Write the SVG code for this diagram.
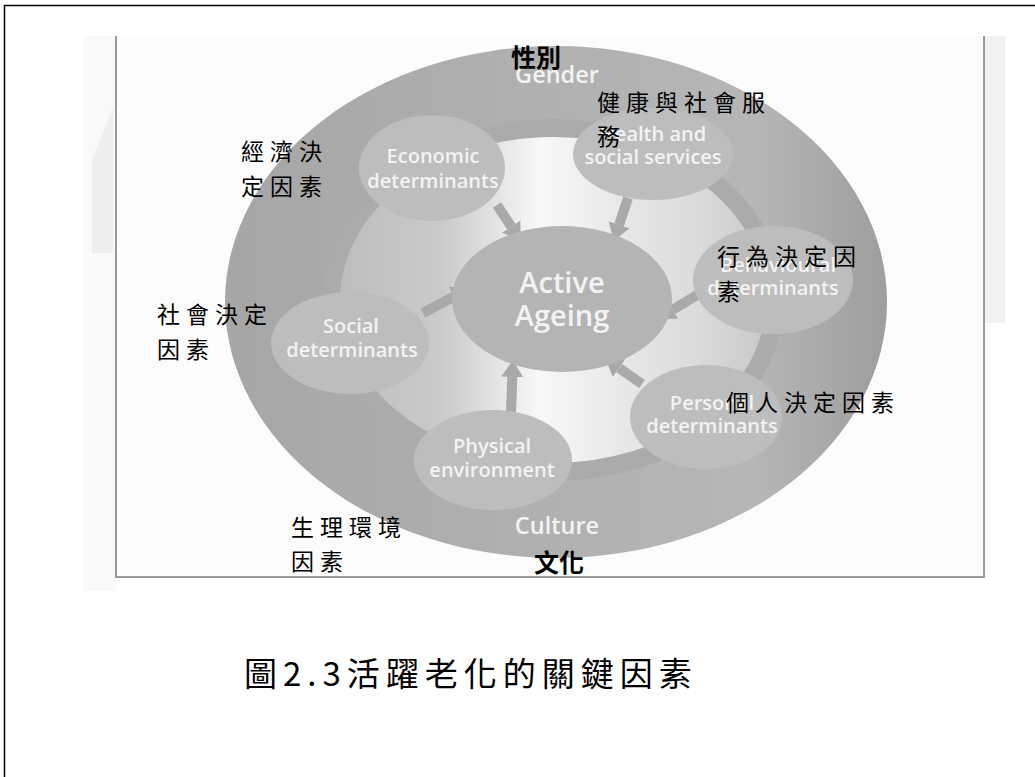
<svg xmlns="http://www.w3.org/2000/svg" width="1035" height="777" viewBox="0 0 1035 777">
<style>
.en{font-family:"Open Sans","Liberation Sans",sans-serif;font-weight:600;fill:#f3f3f3;text-anchor:middle}
.node{fill:#bdbdbd}
.zh{font-family:"Noto Sans CJK TC","Noto Sans CJK SC",sans-serif;font-size:23px;letter-spacing:6px;fill:#000}
.zhb{font-family:"Noto Sans CJK TC","Noto Sans CJK SC",sans-serif;font-size:25px;font-weight:700;fill:#000}
.arrow{stroke:#a9a9a9;stroke-width:10;fill:none;marker-end:url(#ah)}
</style>
<defs>
<linearGradient id="outerG" gradientUnits="userSpaceOnUse" x1="228" y1="0" x2="885" y2="0">
<stop offset="0" stop-color="#a6a6a6"/>
<stop offset="0.45" stop-color="#b0b0b0"/>
<stop offset="0.8" stop-color="#b6b6b6"/>
<stop offset="1" stop-color="#9e9e9e"/>
</linearGradient>
<linearGradient id="innerG" gradientUnits="userSpaceOnUse" x1="331" y1="0" x2="775" y2="0">
<stop offset="0" stop-color="#bcbcbc"/>
<stop offset="0.25" stop-color="#cacaca"/>
<stop offset="0.47" stop-color="#f8f8f8"/>
<stop offset="0.65" stop-color="#e8e8e8"/>
<stop offset="0.83" stop-color="#dadada"/>
<stop offset="1" stop-color="#c6c6c6"/>
</linearGradient>
<marker id="ah" markerUnits="userSpaceOnUse" markerWidth="20" markerHeight="26" refX="0" refY="13" orient="auto" viewBox="0 0 20 26">
<path d="M0,2 L17,13 L0,24 z" fill="#a9a9a9"/>
</marker>
</defs>
<rect width="1035" height="777" fill="#ffffff"/>
<rect x="4.5" y="5.5" width="1100" height="900" fill="none" stroke="#000" stroke-width="1.5"/>
<g id="frame">
<rect x="83" y="36" width="33" height="555" fill="#f9f9f9"/>
<polygon points="92,160 113,107 113,253 92,253" fill="#eeeeee"/>
<rect x="985" y="36" width="20" height="287" fill="#f1f1f1"/>
<rect x="116" y="36" width="868" height="541" fill="#fcfcfc"/>
<path d="M116,36 V577 H984 V36" fill="none" stroke="#999" stroke-width="2"/>
</g>
<g id="outer">
<ellipse cx="556" cy="302" rx="331" ry="256" fill="url(#outerG)"/>
<ellipse cx="553" cy="300" rx="222" ry="172" fill="url(#innerG)" stroke="#ababab" stroke-width="18"/>
<text class="en" x="557" y="83" font-size="23.5">Gender</text>
<text class="en" x="557" y="534" font-size="23.5">Culture</text>
</g>
<g id="connectors">
<line class="arrow" x1="497" y1="205" x2="511.2" y2="226.6"/>
<line class="arrow" x1="628" y1="198" x2="619.1" y2="224.8"/>
<line class="arrow" x1="697" y1="295" x2="672.7" y2="309.7"/>
<line class="arrow" x1="642" y1="384" x2="619.2" y2="368.1"/>
<line class="arrow" x1="511" y1="412" x2="512.3" y2="377"/>
<line class="arrow" x1="423" y1="313" x2="453.9" y2="296.5"/>
</g>
<g id="active-ageing">
<ellipse cx="562" cy="299" rx="110" ry="73" fill="#b4b4b4"/>
<text class="en" x="562" y="293" font-size="29">Active</text>
<text class="en" x="562" y="326" font-size="29">Ageing</text>
</g>
<g id="economic">
<ellipse class="node" cx="432" cy="168" rx="73" ry="53"/>
<text class="en" x="433" y="163" font-size="20">Economic</text>
<text class="en" x="433" y="188" font-size="20">determinants</text>
</g>
<g id="health">
<ellipse class="node" cx="653" cy="154" rx="80" ry="46"/>
<text class="en" x="653" y="141" font-size="20">Health and</text>
<text class="en" x="653" y="164" font-size="20">social services</text>
</g>
<g id="behavioural">
<ellipse class="node" cx="773" cy="280" rx="80" ry="54" fill="#c3c3c3"/>
<text class="en" x="778" y="272" font-size="20">Behavioural</text>
<text class="en" x="773" y="295" font-size="20">determinants</text>
</g>
<g id="personal">
<ellipse class="node" cx="706" cy="417" rx="76" ry="52"/>
<text class="en" x="712" y="410" font-size="20">Personal</text>
<text class="en" x="712" y="433" font-size="20">determinants</text>
</g>
<g id="physical">
<ellipse class="node" cx="493" cy="460" rx="79" ry="50"/>
<text class="en" x="492" y="453" font-size="20">Physical</text>
<text class="en" x="492" y="477" font-size="20">environment</text>
</g>
<g id="social">
<ellipse class="node" cx="350" cy="343" rx="79" ry="51"/>
<text class="en" x="351" y="333" font-size="20">Social</text>
<text class="en" x="352" y="357" font-size="20">determinants</text>
</g>
<g id="labels">
<text class="zhb" x="511" y="67">性別</text>
<text class="zhb" x="534" y="572">文化</text>
<text class="zh" x="241" y="160">經濟決</text>
<text class="zh" x="241" y="195">定因素</text>
<text class="zh" x="157" y="323">社會決定</text>
<text class="zh" x="157" y="358">因素</text>
<text class="zh" x="597" y="111">健康與社會服</text>
<text class="zh" x="597" y="145">務</text>
<text class="zh" x="717" y="265">行為決定因</text>
<text class="zh" x="717" y="300">素</text>
<text class="zh" x="726" y="411">個人決定因素</text>
<text class="zh" x="291" y="536">生理環境</text>
<text class="zh" x="291" y="570">因素</text>
</g>
<g id="caption">
<text x="244" y="686" font-family="'Noto Sans CJK TC','Noto Sans CJK SC',sans-serif" font-size="33" letter-spacing="6">圖2.3活躍老化的關鍵因素</text>
</g>
</svg>
